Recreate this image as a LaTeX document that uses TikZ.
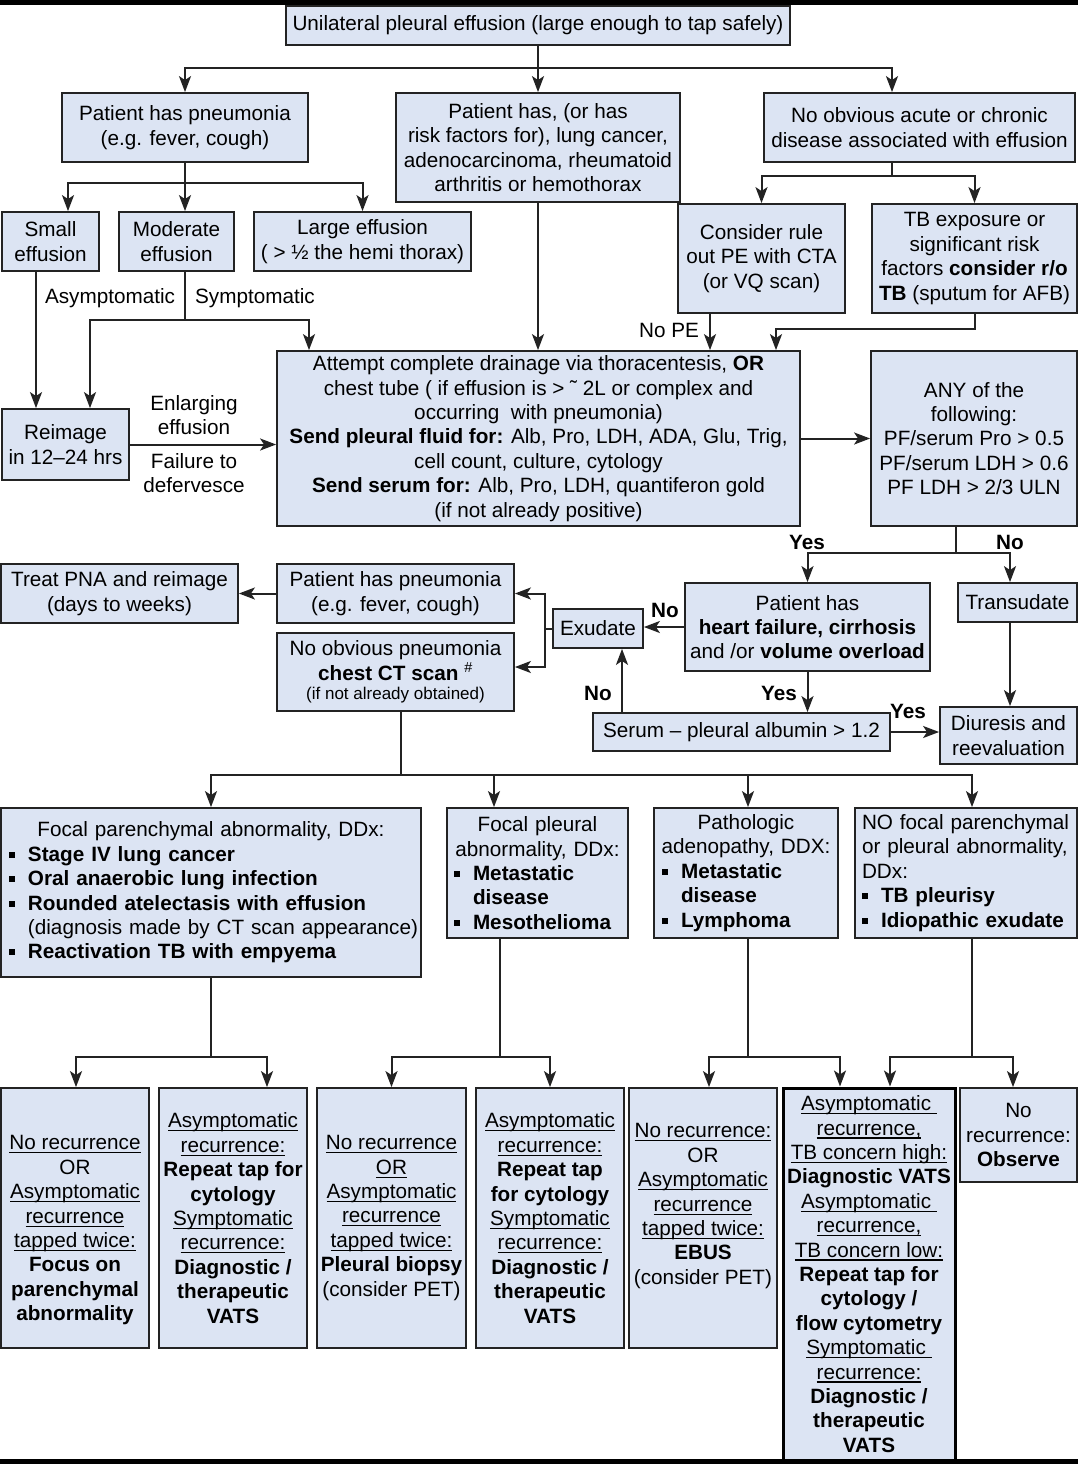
\documentclass[tikz,border=0pt]{standalone}
\usepackage{fontspec}
\setmainfont{Liberation Sans}
\usetikzlibrary{arrows.meta}
\definecolor{boxfill}{RGB}{220,228,243}
\definecolor{boxline}{RGB}{35,35,35}
\newsavebox\ulbox
\newcommand{\uln}[1]{\sbox\ulbox{#1}\rlap{\rule[-3.5pt]{\wd\ulbox}{1.1pt}}\usebox\ulbox}
\newcommand{\bul}{\makebox[19pt][l]{\rule[3.5pt]{6pt}{6pt}}}
\newcommand{\bl}[1]{\mbox{\bul\textbf{#1}}}
\newcommand{\cont}[1]{\mbox{\hspace*{19pt}#1}}
\begin{document}
\begin{tikzpicture}[x=1pt,y=-1pt,
  every node/.style={font=\fontsize{20.7}{24.4}\selectfont},
  box/.style={draw=boxline, fill=boxfill, line width=1.8pt, inner sep=2pt, align=center},
  arr/.style={-{Stealth[length=16pt,width=12pt,inset=4pt]}, line width=2pt, draw=boxline},
  ln/.style={line width=2pt, draw=boxline},
  lbl/.style={inner sep=0pt, align=center},
  yn/.style={inner sep=0pt, font=\fontsize{20.7}{24.4}\selectfont\bfseries}]
\fill[white] (0,0) rectangle (1078,1464);
\useasboundingbox (0,0) rectangle (1078,1464);
\fill[black] (0,0) rectangle (1078,5);
\fill[black] (0,1459) rectangle (1078,1464);

% ---------- top level ----------
\node[box, minimum width=504pt, minimum height=39pt] (b0) at (538,25.5) {Unilateral pleural effusion (large enough to tap safely)};
\node[box, minimum width=246pt, minimum height=69pt] (b1) at (185,127.5) {Patient has pneumonia\\(e.g. fever, cough)};
\node[box, minimum width=284pt, minimum height=109pt] (b2) at (538,147.5) {Patient has, (or has\\risk factors for), lung cancer,\\adenocarcinoma, rheumatoid\\arthritis or hemothorax};
\node[box, minimum width=311pt, minimum height=69pt] (b3) at (919.5,127.5) {No obvious acute or chronic\\disease associated with effusion};

\node[box, minimum width=97pt, minimum height=59pt] (b4) at (50.5,241.5) {Small\\effusion};
\node[box, minimum width=115pt, minimum height=59pt] (b5) at (176.5,241.5) {Moderate\\effusion};
\node[box, minimum width=217pt, minimum height=59pt] (b6) at (362.5,241.5) {Large effusion\\( > ½ the hemi thorax)};
\node[box, minimum width=167pt, minimum height=109pt] (b7) at (761.5,258.5) {Consider rule\\out PE with CTA\\(or VQ scan)};
\node[box, minimum width=205pt, minimum height=109pt] (b8) at (974.5,258.5) {TB exposure or\\significant risk\\factors \textbf{consider r/o}\\\textbf{TB} (sputum for AFB)};

\node[box, minimum width=127pt, minimum height=71pt] (b10) at (65.5,444.5) {Reimage\\in 12--24 hrs};
\node[box, minimum width=523pt, minimum height=175pt] (b9) at (538.5,438.5) {Attempt complete drainage via thoracentesis, \textbf{OR}\\chest tube ( if effusion is > ˜ 2L or complex and\\occurring\ \ with pneumonia)\\\textbf{Send pleural fluid for:} Alb, Pro, LDH, ADA, Glu, Trig,\\cell count, culture, cytology\\\textbf{Send serum for:} Alb, Pro, LDH, quantiferon gold\\(if not already positive)};
\node[box, minimum width=206pt, minimum height=175pt] (b11) at (974,438.5) {ANY of the\\following:\\PF/serum Pro > 0.5\\PF/serum LDH > 0.6\\PF LDH > 2/3 ULN};

% ---------- middle ----------
\node[box, minimum width=245pt, minimum height=88pt] (b12) at (807.5,627) {Patient has\\\textbf{heart failure, cirrhosis}\\and /or \textbf{volume overload}};
\node[box, minimum width=119pt, minimum height=39pt] (b13) at (1017.5,602.5) {Transudate};
\node[box, minimum width=90pt, minimum height=39pt] (b14) at (598,628.5) {Exudate};
\node[box, minimum width=297pt, minimum height=38pt] (b15) at (741.5,732) {Serum -- pleural albumin > 1.2};
\node[box, minimum width=137pt, minimum height=57pt] (b16) at (1008.5,735.5) {Diuresis and\\reevaluation};
\node[box, minimum width=237pt, minimum height=59pt] (b17) at (395.5,593.5) {Patient has pneumonia\\(e.g. fever, cough)};
\node[box, minimum width=237pt, minimum height=59pt] (b18) at (119.5,593.5) {Treat PNA and reimage\\(days to weeks)};
\node[box, minimum width=237pt, minimum height=78pt] (b19) at (395.5,672) {No obvious pneumonia\\\textbf{chest CT scan} \textsuperscript{\#}\\[-5pt]{\fontsize{17}{19}\selectfont (if not already obtained)}};

% ---------- DDx row ----------
\node[box, minimum width=420pt, minimum height=169pt, align=left, text width=404pt, inner xsep=8pt] (b20) at (211,892.5)
  {\makebox[404pt][c]{Focal parenchymal abnormality, DDx:}\\
   \bl{Stage IV lung cancer}\\
   \bl{Oral anaerobic lung infection}\\
   \bl{Rounded atelectasis with effusion}\\
   \cont{(diagnosis made by CT scan appearance)}\\
   \bl{Reactivation TB with empyema}};
\node[box, minimum width=181pt, minimum height=130pt, align=left, text width=167pt, inner xsep=7pt] (b21) at (537.5,873)
  {\makebox[167pt][c]{Focal pleural}\\
   \makebox[167pt][c]{abnormality, DDx:}\\
   \bl{Metastatic}\\
   \cont{\textbf{disease}}\\
   \bl{Mesothelioma}};
\node[box, minimum width=184pt, minimum height=130pt, align=left, text width=168pt, inner xsep=8pt] (b22) at (746,873)
  {\makebox[168pt][c]{Pathologic}\\
   \makebox[168pt][c]{adenopathy, DDX:}\\
   \bl{Metastatic}\\
   \cont{\textbf{disease}}\\
   \bl{Lymphoma}};
\node[box, minimum width=222pt, minimum height=130pt, align=left, text width=208pt, inner xsep=7pt] (b23) at (966,873)
  {\mbox{NO focal parenchymal}\\
   \mbox{or pleural abnormality,}\\
   DDx:\\
   \bl{TB pleurisy}\\
   \bl{Idiopathic exudate}};

% ---------- bottom row ----------
\node[box, minimum width=148pt, minimum height=260pt, inner sep=1pt] (c1) at (75,1218)
  {\rule{0pt}{39pt}\uln{No recurrence}\\OR\\\uln{Asymptomatic}\\\uln{recurrence}\\\uln{tapped twice:}\\\textbf{Focus on}\\\textbf{parenchymal}\\\textbf{abnormality}};
\node[box, minimum width=148pt, minimum height=260pt, inner sep=1pt] (c2) at (233,1218)
  {\uln{Asymptomatic}\\\uln{recurrence:}\\\textbf{Repeat tap for}\\\textbf{cytology}\\\uln{Symptomatic}\\\uln{recurrence:}\\\textbf{Diagnostic /}\\\textbf{therapeutic}\\\textbf{VATS}};
\node[box, minimum width=149pt, minimum height=260pt, inner sep=1pt] (c3) at (391.5,1218)
  {\uln{No recurrence}\\\uln{OR}\\\uln{Asymptomatic}\\\uln{recurrence}\\\uln{tapped twice:}\\\textbf{Pleural biopsy}\\(consider PET)};
\node[box, minimum width=148pt, minimum height=260pt, inner sep=1pt] (c4) at (550,1218)
  {\uln{Asymptomatic}\\\uln{recurrence:}\\\textbf{Repeat tap}\\\textbf{for cytology}\\\uln{Symptomatic}\\\uln{recurrence:}\\\textbf{Diagnostic /}\\\textbf{therapeutic}\\\textbf{VATS}};
\node[box, minimum width=148pt, minimum height=260pt, inner sep=1pt] (c5) at (703,1218)
  {\uln{No recurrence:}\\OR\\\uln{Asymptomatic}\\\uln{recurrence}\\\uln{tapped twice:}\\\textbf{EBUS}\\(consider PET)\rule[-28pt]{0pt}{0pt}};
\node[box, draw=black, line width=3pt, minimum width=172pt, minimum height=372pt, inner sep=1pt] (c6) at (869,1274)
  {\uln{Asymptomatic\ }\\\uln{recurrence,}\\\uln{TB concern high:}\\\textbf{Diagnostic VATS}\\\uln{Asymptomatic\ }\\\uln{recurrence,}\\\uln{TB concern low:}\\\textbf{Repeat tap for}\\\textbf{cytology /}\\\textbf{flow cytometry}\\\uln{Symptomatic\ }\\\uln{recurrence:}\\\textbf{Diagnostic /}\\\textbf{therapeutic}\\\textbf{VATS}};
\node[box, minimum width=117pt, minimum height=94pt, inner sep=1pt] (c7) at (1018.5,1135)
  {No\\recurrence:\\\textbf{Observe}};

% ---------- labels ----------
\node[lbl] (lasym) at (110,298) {Asymptomatic};
\node[lbl] (lsym) at (255,298) {Symptomatic};
\node[lbl] (lenl) at (194,415) {Enlarging\\effusion};
\node[lbl] (lfail) at (194,473) {Failure to\\defervesce};
\node[lbl] (lnope) at (669,330) {No PE};
\node[yn] (y1) at (807,542) {Yes};
\node[yn] (n1) at (1010,542) {No};
\node[yn] (n2) at (665,610) {No};
\node[yn] (y2) at (779,693) {Yes};
\node[yn] (n3) at (598,693) {No};
\node[yn] (y3) at (908,711) {Yes};

% ---------- junctions ----------
\coordinate (j0) at (538,68);
\coordinate (j1) at (185,183);
\coordinate (j3) at (892,176);
\coordinate (j5) at (185,320);
\coordinate (j8) at (974.5,329);
\coordinate (j11) at (956,553);
\coordinate (j14) at (545,628.5);
\coordinate (j19) at (401,775);
\coordinate (j20) at (211,1057);
\coordinate (j21) at (500,1057);
\coordinate (j22) at (748,1057);
\coordinate (j23) at (972,1057);
\coordinate (t7) at ([xshift=-51.5pt]b7.south);

% ---------- connectors ----------
\draw[ln] (b0.south) -- (j0);
\draw[arr] (j0) -| (b1.north);
\draw[arr] (j0) -- (b2.north);
\draw[arr] (j0) -| ([xshift=-27.5pt]b3.north);

\draw[ln] (b1.south) -- (j1);
\draw[arr] (j1) -| ([xshift=17.5pt]b4.north);
\draw[arr] (j1) -- ([xshift=8.5pt]b5.north);
\draw[arr] (j1) -| (b6.north);

\draw[ln] ([xshift=-27.5pt]b3.south) -- (j3);
\draw[arr] (j3) -| (b7.north);
\draw[arr] (j3) -| (b8.north);

\draw[arr] ([xshift=-14.5pt]b4.south) -- ([xshift=-29.5pt]b10.north);
\draw[ln] ([xshift=8.5pt]b5.south) -- (j5);
\draw[arr] (j5) -| ([xshift=24.5pt]b10.north);
\draw[arr] (j5) -| ([xshift=-229.5pt]b9.north);

\draw[arr] (b10.east) -- (b10.east -| b9.west);
\draw[arr] (b2.south) -- (b2.south |- b9.north);
\draw[arr] (t7) -- (t7 |- b9.north);
\draw[arr] (b8.south) -- (j8) -| ([xshift=237.5pt]b9.north);
\draw[arr] (b9.east) -- (b11.west);

\draw[ln] (j11 |- b11.south) -- (j11);
\draw[arr] (j11) -| (b12.north);
\draw[arr] (j11) -| ([xshift=-7.5pt]b13.north);

\draw[arr] (b12.west) -- (b12.west -| b14.east);
\draw[arr] (b12.south) -- (b12.south |- b15.north);
\draw[arr] ([xshift=-119.5pt]b15.north) -- ([xshift=24pt]b14.south);
\draw[arr] (b15.east) -- (b15.east -| b16.west);
\draw[arr] ([xshift=-7.5pt]b13.south) -- ([xshift=1.5pt]b16.north);

\draw[ln] (b14.west) -- (j14);
\draw[arr] (j14) |- (b17.east);
\draw[arr] (j14) |- ([yshift=5pt]b19.east);
\draw[arr] (b17.west) -- (b18.east);

\draw[ln] ([xshift=5.5pt]b19.south) -- (j19);
\draw[arr] (j19) -| (b20.north);
\draw[arr] (j19) -| ([xshift=-43.5pt]b21.north);
\draw[arr] (j19) -| ([xshift=2pt]b22.north);
\draw[arr] (j19) -| ([xshift=6pt]b23.north);

\draw[ln] (b20.south) -- (j20);
\draw[arr] (j20) -| ([xshift=1pt]c1.north);
\draw[arr] (j20) -| ([xshift=34pt]c2.north);

\draw[ln] ([xshift=-37.5pt]b21.south) -- (j21);
\draw[arr] (j21) -| (c3.north);
\draw[arr] (j21) -| (c4.north);

\draw[ln] ([xshift=2pt]b22.south) -- (j22);
\draw[arr] (j22) -| ([xshift=6pt]c5.north);
\draw[arr] (j22) -| ([xshift=-29pt]c6.north);

\draw[ln] ([xshift=6pt]b23.south) -- (j23);
\draw[arr] (j23) -| ([xshift=21pt]c6.north);
\draw[arr] (j23) -| ([xshift=-5.5pt]c7.north);
\end{tikzpicture}
\end{document}
